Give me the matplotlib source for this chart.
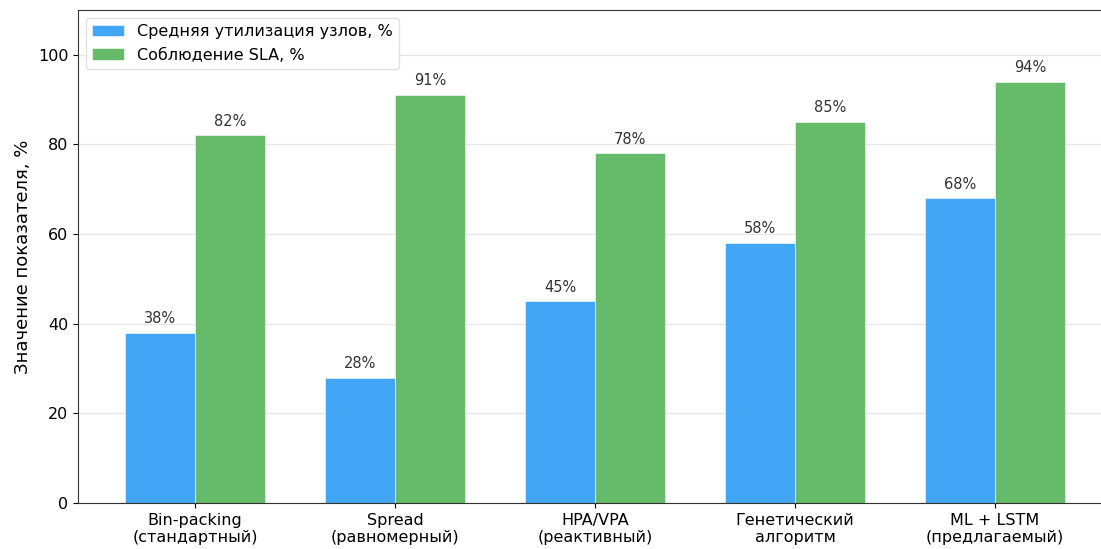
import matplotlib
matplotlib.use("Agg")
import matplotlib.pyplot as plt
import numpy as np

categories = ["Bin-packing\n(стандартный)", "Spread\n(равномерный)", "HPA/VPA\n(реактивный)",
              "Генетический\nалгоритм", "ML + LSTM\n(предлагаемый)"]
utilization = [38, 28, 45, 58, 68]
sla = [82, 91, 78, 85, 94]
series_names = ["Средняя утилизация узлов, %", "Соблюдение SLA, %"]

fig = plt.figure(figsize=(11.01, 5.49), dpi=100)
W, H = 1101, 549
ax = fig.add_axes([78 / W, 46 / H, 1034 / W, 493 / H])

x = np.arange(len(categories))
w = 0.35
b1 = ax.bar(x - w / 2, utilization, w, color="#42A5F5", edgecolor="white", linewidth=0.4, label=series_names[0])
b2 = ax.bar(x + w / 2, sla, w, color="#66BB6A", edgecolor="white", linewidth=0.4, label=series_names[1])

for bars, vals in ((b1, utilization), (b2, sla)):
    for bar, v in zip(bars, vals):
        ax.text(bar.get_x() + bar.get_width() / 2, v + 1.5, f"{v}%", ha="center", va="bottom",
                fontsize=10.5, color="#333333")

ax.set_xlim(-0.585, 4.585)
ax.set_ylim(0, 110)
ax.set_yticks([0, 20, 40, 60, 80, 100])
ax.set_xticks(x)
ax.set_xticklabels(categories, fontsize=11.5)
ax.tick_params(axis="y", labelsize=11.5)
ax.set_ylabel("Значение показателя, %", fontsize=13)
ax.yaxis.grid(True, color="#e6e6e6", linewidth=0.9)
ax.set_axisbelow(True)
for s in ax.spines.values():
    s.set_color("#333333")
ax.legend(loc="upper left", fontsize=11.5, framealpha=0.9, edgecolor="#dddddd")

fig.savefig("out.png", dpi=100)
